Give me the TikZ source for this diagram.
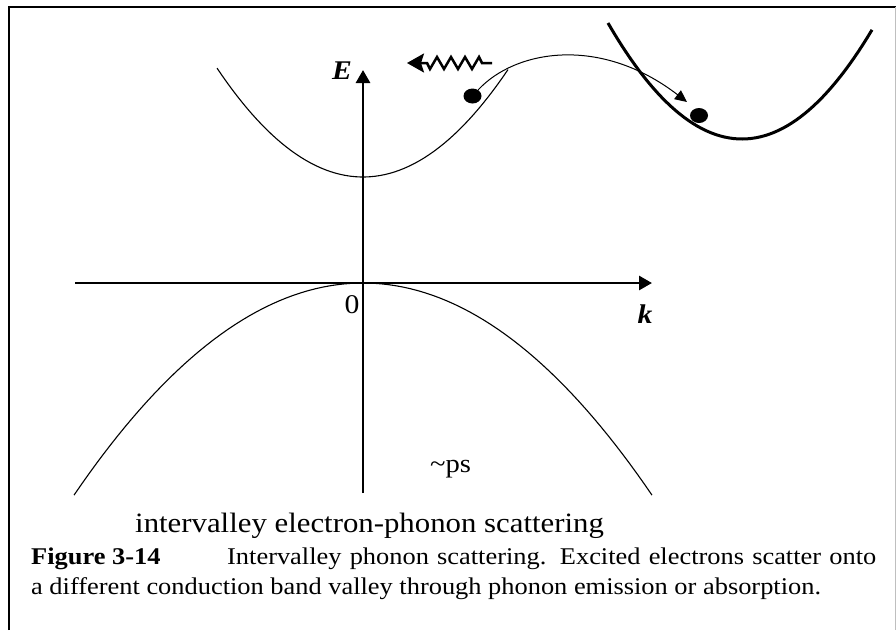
\documentclass[tikz,border=0pt]{standalone}
\usepackage{fontspec}
\setmainfont[FakeStretch=1.1]{Liberation Serif}
\usetikzlibrary{arrows.meta,shapes.geometric}
\begin{document}
\begin{tikzpicture}[x=1pt,y=-1pt,
  axisline/.style={line width=2.8pt,-{Triangle[length=13pt,width=14pt]}},
  band/.style={line width=1.1pt},
  valley/.style={line width=3pt},
  electron/.style={ellipse,fill=black,draw=none,inner sep=0pt,minimum width=18pt,minimum height=15pt},
  lab/.style={font=\fontsize{27}{31}\selectfont\bfseries\itshape,inner sep=0pt},
  num/.style={font=\fontsize{27}{31}\selectfont,inner sep=0pt},
  captxt/.style={font=\fontsize{24}{28}\selectfont,inner sep=0pt,anchor=base west}]
\fill[white] (0,0) rectangle (896,630);
\useasboundingbox (0,0) rectangle (896,630);
% frame
\draw[line width=1.6pt] (9,630) -- (9,7) -- (896,7);
\draw[line width=0.8pt,black!25] (895,7) -- (895,630);
% axes
\coordinate (x0) at (75,283);
\coordinate (x1) at (652,283);
\coordinate (y0) at (363,493);
\coordinate (y1) at (363,70);
\draw[axisline] (x0) -- (x1);
\draw[axisline] (y0) -- (y1);
% bands
\draw[band] plot[domain=74:652,samples=80] (\x,{283+0.254*((\x-363)/10)^2});
\draw[band] plot[domain=217:508,samples=60] (\x,{177-0.511*((\x-363)/10)^2});
\draw[valley] plot[domain=608:872,samples=60] (\x,{139-0.646*((\x-742)/10)^2});
% electrons
\node[electron] (e1) at (472.5,96) {};
\node[electron] (e2) at (699,115.5) {};
\coordinate (t2) at (687,102);
\draw[line width=1pt,-{Triangle[length=12pt,width=11pt]}] (e1) .. controls (515,50) and (600,35) .. (t2);
% phonon
\coordinate (p0) at (492,63);
\coordinate (p1) at (407,63);
\draw[line width=2.5pt,-{Stealth[length=17pt,width=19pt,inset=3pt]}] (p0) -- (482,63) -- (479,57) -- (472,69) -- (465,57) -- (458,69) -- (451,57) -- (444,69) -- (437,57) -- (430,69) -- (427,63) -- (p1);
% labels
\node[lab] (E) at (342,71) {E};
\node[lab] (k) at (645,314) {k};
\node[num] (zero) at (352,305) {0};
\node[font=\fontsize{26}{30}\selectfont,inner sep=0pt,anchor=base west] (ps) at (430,472) {\textasciitilde ps};
\node[font=\fontsize{28}{32}\selectfont,inner sep=0pt,anchor=base west] (title) at (135,532) {intervalley electron-phonon scattering};
\node[captxt] (c1) at (31,564) {\textbf{Figure 3-14}};
\node[captxt] (c2) at (227,564) {\makebox[649pt][s]{Intervalley phonon scattering. Excited electrons scatter onto}};
\node[captxt] (c3) at (31,594) {a different conduction band valley through phonon emission or absorption.};
\end{tikzpicture}
\end{document}
